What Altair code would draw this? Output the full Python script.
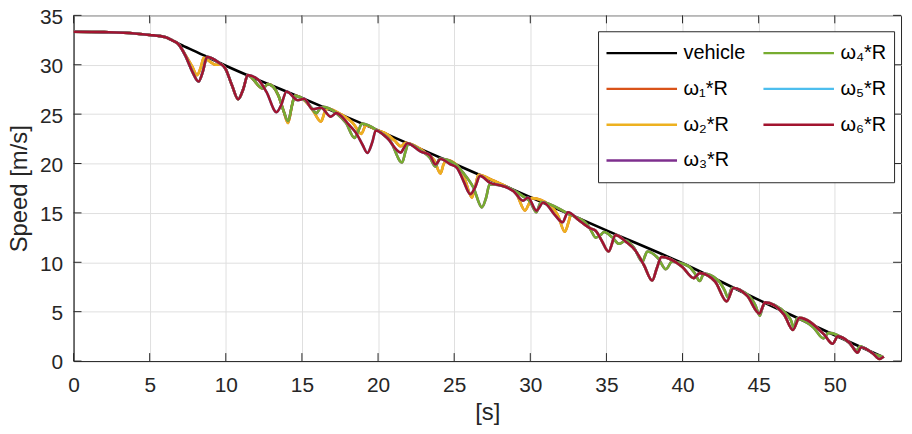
import altair as alt
import pandas as pd

# ---------------- data ----------------
x_ticks = [0, 5, 10, 15, 20, 25, 30, 35, 40, 45, 50]
y_ticks = [0, 5, 10, 15, 20, 25, 30, 35]

vehicle_t = [0, 2, 4, 5, 6, 6.5, 7, 8, 10, 15, 20, 25, 30, 35, 40, 45, 50, 53.1]
vehicle_v = [33.35, 33.3, 33.17, 33.02, 32.8, 32.45, 32.06, 31.35, 29.9, 26.63,
             23.35, 19.98, 16.6, 13.23, 9.9, 6.19, 2.61, 0.45]

# rear pair (omega5, omega6) - red on top
w56_t = [0, 2, 4, 5, 6, 6.5, 6.85, 7.35, 7.8, 8.21, 8.49, 8.77, 9.6, 9.96, 10.41,
         10.81, 11.16, 11.44, 12.12, 12.67, 13.33, 13.63, 13.99, 14.74, 15.14, 15.71,
         16.25, 16.9, 17.25, 18.1, 18.55, 18.98, 19.3, 19.63, 19.85, 20.58, 21.49,
         21.7, 21.92, 22.8, 23.4, 23.77, 24.11, 24.72, 25.18, 25.62, 26.06, 26.38,
         26.7, 27.33, 28.24, 28.9, 29.52, 29.85, 30.4, 30.85, 31.66, 32.12, 32.47,
         33.23, 33.98, 34.29, 34.69, 35.14, 35.6, 36.3, 36.9, 37.47, 38.01, 38.31,
         38.62, 39.97, 40.73, 41.13, 42.14, 42.9, 43.35, 44.25, 45.05, 45.41, 46.67,
         47.25, 47.67, 49.29, 49.86, 50.2, 51.0, 51.5, 51.72, 52.52, 52.92, 53.22]
w56_v = [33.35, 33.3, 33.17, 33.02, 32.8, 32.45, 32.15, 30.9, 29.3, 28.3, 29.3, 30.8,
         30.15, 29.65, 27.9, 26.5, 27.6, 28.95, 28.5, 27.25, 25.2, 25.9, 27.3, 26.4,
         26.55, 25.5, 25.65, 24.75, 25.1, 23.9, 23.1, 21.9, 21.07, 22.2, 23.35, 22.6,
         21.1, 21.6, 22.05, 21.2, 20.85, 19.9, 20.45, 19.95, 19.57, 18.2, 16.9, 17.6,
         18.75, 18.07, 17.7, 17.2, 16.23, 16.56, 15.23, 16.06, 14.7, 14.05, 15.06,
         14.2, 13.4, 13.2, 12.2, 11.1, 12.75, 12.05, 11.2, 9.7, 8.15, 9.4, 10.55,
         9.55, 8.4, 8.9, 8.05, 6.04, 7.4, 6.6, 4.8, 5.94, 4.7, 3.15, 4.37, 2.7, 1.75,
         2.5, 1.8, 0.85, 1.4, 0.75, 0.2, 0.45]

# front pair (omega1, omega2) - yellow
w12_t = [0, 2, 4, 5, 6, 6.5, 6.85, 7.35, 7.8, 8.11, 8.35, 8.55, 8.98, 9.3, 9.7, 9.96,
         10.41, 10.81, 11.16, 11.44, 12.42, 12.78, 13.45, 13.8, 14.09, 14.35, 14.53,
         15.2, 15.75, 16.25, 16.5, 16.7, 17.6, 18.4, 18.9, 19.2, 19.9, 20.6, 21.1,
         21.5, 21.8, 23.2, 23.7, 24.1, 24.3, 24.5, 25.2, 25.7, 26.17, 26.4, 26.6,
         27.6, 28.5, 29.1, 29.65, 29.9, 30.1, 31.3, 31.8, 32.27, 32.5, 32.67,
         33.23, 33.98, 34.29, 34.69, 35.14, 35.6, 36.3, 36.9, 37.47, 38.01, 38.31,
         38.62, 39.97, 40.73, 41.13, 42.14, 42.9, 43.35, 44.25, 45.05, 45.41, 46.67,
         47.25, 47.67, 49.29, 49.86, 50.2, 51.0, 51.5, 51.72, 52.52, 52.92, 53.22]
w12_v = [33.35, 33.3, 33.17, 33.02, 32.8, 32.45, 32.15, 31.0, 29.8, 28.95, 29.7, 30.7,
         30.3, 30.0, 30.05, 29.65, 27.9, 26.5, 27.6, 28.95, 27.6, 28.05, 26.9, 25.3,
         24.1, 25.9, 26.85, 26.35, 25.3, 24.25, 25.2, 25.55, 24.95, 24.0, 23.0, 23.87,
         23.4, 22.95, 22.3, 21.75, 22.1, 21.0, 20.3, 19.0, 19.9, 20.35, 19.8, 18.4,
         16.55, 17.8, 18.85, 18.25, 17.6, 16.9, 15.25, 15.9, 16.5, 15.75, 14.8, 13.1,
         14.0, 14.8,
         14.2, 13.4, 13.2, 12.2, 11.1, 12.75, 12.05, 11.2, 9.7, 8.15, 9.4, 10.55,
         9.55, 8.4, 8.9, 8.05, 6.04, 7.4, 6.6, 4.8, 5.94, 4.7, 3.15, 4.37, 2.7, 1.75,
         2.5, 1.8, 0.85, 1.4, 0.75, 0.2, 0.45]

# middle pair (omega3, omega4) - green
w34_t = [0, 2, 4, 5, 6, 6.5, 6.85, 7.35, 7.8, 8.21, 8.49, 8.77, 9.6, 9.96, 10.41,
         10.81, 11.16, 11.44, 12.42, 12.78, 13.45, 13.8, 14.09, 14.35, 14.53, 15.3,
         15.65, 15.95, 16.2, 16.4, 17.3, 17.9, 18.45, 18.7, 18.95, 20.0, 20.8, 21.58,
         21.8, 21.98, 22.9, 23.4, 23.77, 24.05, 25.1, 25.6, 26.27, 26.82, 27.1, 27.33,
         28.5, 29.5, 30.0, 30.4, 30.55, 30.7, 32.5, 33.7, 34.0, 34.29, 34.6, 34.85,
         35.4, 35.83, 36.27, 36.8, 37.36, 37.55, 37.68, 38.4, 38.91, 39.3, 40.4, 40.8,
         41.13, 41.4, 42.3, 42.75, 43.0, 43.23, 44.4, 44.8, 45.07, 45.25, 45.45, 46.8,
         47.1, 47.33, 47.5, 48.6, 49.25, 49.6, 50.9, 51.45, 51.65, 52.6, 53.1]
w34_v = [33.35, 33.3, 33.17, 33.02, 32.8, 32.45, 32.15, 30.9, 29.3, 28.3, 29.3, 30.8,
         30.15, 29.65, 27.9, 26.5, 27.6, 28.95, 27.6, 28.05, 26.9, 25.3, 24.3, 25.9,
         26.85, 26.25, 25.6, 25.1, 25.6, 25.75, 25.05, 24.1, 22.6, 23.3, 24.05, 23.3,
         22.3, 20.1, 21.2, 22.0, 21.2, 20.6, 19.7, 20.5, 19.9, 19.05, 17.55, 15.56,
         16.56, 17.9, 17.6, 16.7, 16.1, 15.06, 15.6, 16.1, 14.9, 13.9, 13.2, 12.5,
         12.75, 13.06, 12.5, 11.87, 12.2, 11.5, 10.05, 10.7, 11.1, 10.4, 9.3, 10.05,
         9.6, 8.9, 8.1, 8.85, 8.2, 7.2, 6.4, 7.4, 6.55, 5.6, 4.6, 5.4, 5.9, 4.8, 4.2,
         3.35, 4.3, 3.4, 2.3, 2.85, 1.9, 1.1, 1.5, 0.7, 0.45]

names = ["vehicle", "ω₁*R", "ω₂*R", "ω₃*R", "ω₄*R", "ω₅*R", "ω₆*R"]
colors = ["#000000", "#D95319", "#EDB120", "#7E2F8E", "#77AC30", "#4DBEEE", "#A2142F"]
series_data = {
    "vehicle": (vehicle_t, vehicle_v),
    "ω₁*R": (w12_t, w12_v),
    "ω₂*R": (w12_t, w12_v),
    "ω₃*R": (w34_t, w34_v),
    "ω₄*R": (w34_t, w34_v),
    "ω₅*R": (w56_t, w56_v),
    "ω₆*R": (w56_t, w56_v),
}

rows = []
for s in names:
    ts, vs = series_data[s]
    for a, b in zip(ts, vs):
        rows.append({"series": s, "t": a, "v": b})
df = pd.DataFrame(rows)

W, H = 833, 348
FONT = "Liberation Sans"
DARK = "#262626"

xs = alt.Scale(domain=[0, 54.35], nice=False, zero=False)
ys = alt.Scale(domain=[0, 35], nice=False, zero=False)
xaxis = alt.Axis(values=x_ticks, title="[s]", grid=True, tickSize=0, labelPadding=14,
                 titlePadding=5, labelFlush=False, labelOverlap=False)
yaxis = alt.Axis(values=y_ticks, title="Speed [m/s]", grid=True, tickSize=0,
                 labelPadding=11, titlePadding=8, labelOffset=2, labelOverlap=False)
cscale = alt.Scale(domain=names, range=colors)
legend = alt.Legend(orient="none", legendX=528, legendY=16, columns=2, title=None,
                    symbolType="stroke", symbolSize=5041, symbolStrokeWidth=2.5,
                    clipHeight=30, rowPadding=6, columnPadding=16, labelOffset=5,
                    padding=7, strokeColor=DARK, fillColor="white",
                    labelFontSize=20, labelFont=FONT, labelColor="#000000", labelLimit=0)

xt = pd.DataFrame({"t": x_ticks})
yt = pd.DataFrame({"v": y_ticks})
TL = 8
tick_bottom = alt.Chart(xt).mark_rule(color=DARK, strokeWidth=1).encode(
    x=alt.X("t:Q", scale=xs, axis=xaxis), y=alt.value(H), y2=alt.value(H - TL))
tick_top = alt.Chart(xt).mark_rule(color=DARK, strokeWidth=1).encode(
    x=alt.X("t:Q", scale=xs, axis=xaxis), y=alt.value(0), y2=alt.value(TL))
tick_left = alt.Chart(yt).mark_rule(color=DARK, strokeWidth=1).encode(
    y=alt.Y("v:Q", scale=ys, axis=yaxis), x=alt.value(0), x2=alt.value(TL))
tick_right = alt.Chart(yt).mark_rule(color=DARK, strokeWidth=1).encode(
    y=alt.Y("v:Q", scale=ys, axis=yaxis), x=alt.value(W), x2=alt.value(W - TL))

line_layers = []
for s in names:
    line_layers.append(
        alt.Chart(df).transform_filter(alt.datum.series == s)
        .mark_line(strokeWidth=2.6, interpolate="monotone", strokeJoin="round")
        .encode(
            x=alt.X("t:Q", scale=xs, axis=xaxis),
            y=alt.Y("v:Q", scale=ys, axis=yaxis),
            color=alt.Color("series:N", scale=cscale, legend=legend),
        )
    )

chart = alt.layer(tick_bottom, tick_top, tick_left, tick_right, *line_layers).properties(
    width=W, height=H,
    autosize=alt.AutoSizeParams(type="none"),
    padding={"left": 66, "top": 6, "right": 3, "bottom": 70},
    background="white",
).configure_view(stroke=DARK, strokeWidth=1).configure_axis(
    labelFont=FONT, labelFontSize=21, labelColor=DARK,
    titleFont=FONT, titleFontSize=24, titleColor=DARK, titleFontWeight="normal",
    domainColor=DARK, domainWidth=1, gridColor="#dfdfdf", gridWidth=1,
)

chart.save("out.html", embed_options={"renderer": "svg", "actions": False})
